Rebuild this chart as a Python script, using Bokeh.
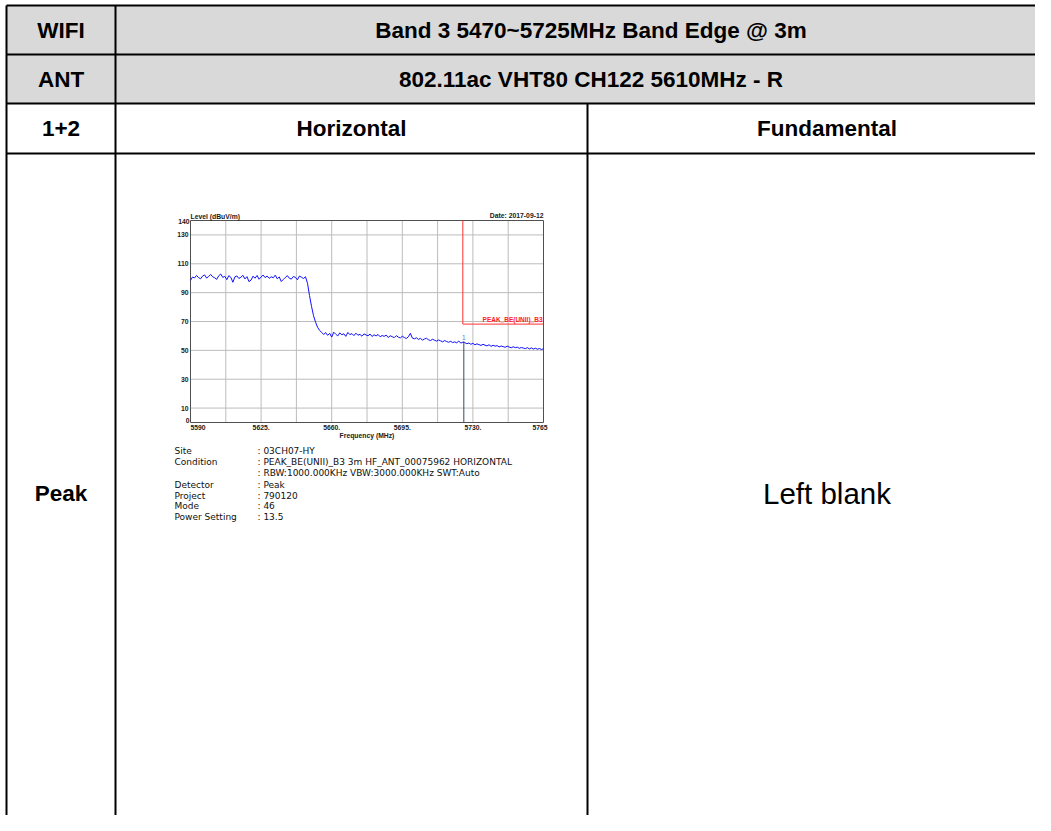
from bokeh.plotting import figure
from bokeh.models import Range1d, ColumnDataSource
from bokeh.core.properties import value
from bokeh.embed import file_html
from bokeh.resources import INLINE

# ---------------- table contents ----------------
row1_texts = ["WIFI", "Band 3 5470~5725MHz Band Edge @ 3m"]
row2_texts = ["ANT", "802.11ac VHT80 CH122 5610MHz - R"]
row3_texts = ["1+2", "Horizontal", "Fundamental"]
row4_texts = ["Peak", "Left blank"]

# ---------------- embedded spectrum plot data ----------------
freq_mhz = list(range(5590, 5766))
level_dbuv = [
    98.5, 100.8, 100.2, 101.9, 100.4, 99.6, 101.5, 102.3, 100.1, 101.2,
    102.6, 101.0, 100.3, 99.2, 101.7, 102.9, 100.5, 101.3, 99.0, 101.8,
    100.6, 97.2, 100.9, 101.6, 99.8, 100.7, 102.0, 99.5, 101.1, 97.6,
    98.7, 101.4, 100.0, 101.9, 99.3, 100.8, 102.2, 100.4, 101.5, 99.9,
    101.0, 100.3, 102.1, 99.6, 100.9, 97.7, 99.1, 100.5, 101.8, 100.0,
    99.4, 101.2, 100.6, 98.9, 101.5, 100.7, 99.8, 101.0,
    96.5, 88.0, 80.5, 74.0, 69.5, 66.0, 63.8, 62.5,
    61.0, 62.3, 60.4, 61.8, 59.2, 62.6, 61.2, 60.0, 62.1, 60.8,
    61.5, 59.7, 62.4, 60.9, 61.6, 60.2, 61.9, 60.5, 61.1, 59.8,
    61.4, 60.7, 60.1, 61.3, 59.6, 60.8, 60.0, 61.0, 59.4, 60.3,
    59.7, 60.6, 58.9, 60.1, 59.5, 58.8, 60.2, 59.2, 58.6, 59.8,
    58.9, 58.2, 59.4, 61.8, 58.5,
    58.0, 58.7, 57.6, 58.3, 57.1, 57.9, 58.4, 57.3, 56.8, 57.7,
    57.0, 56.4, 57.2, 56.6, 55.9, 56.8, 56.1, 55.6, 56.3, 55.4,
    55.9, 55.2, 56.5, 55.0, 55.7,
    55.3, 54.6, 55.1, 54.2, 54.9, 53.8, 54.5, 54.0, 53.4, 54.2,
    53.6, 53.1, 53.9, 52.8, 53.5, 52.9, 53.3, 52.4, 53.0, 52.6,
    52.1, 52.9, 52.3, 51.8, 52.5, 51.9, 52.2, 51.4, 52.0, 51.6,
    51.2, 51.9, 51.0, 51.7, 50.9, 51.5, 50.8, 51.3, 50.6, 51.1,
]
x_tick_values = [5590, 5625, 5660, 5695, 5730, 5765]
x_tick_labels = ["5590", "5625.", "5660.", "5695.", "5730.", "5765"]
x_grid_values = [5607.5, 5625, 5642.5, 5660, 5677.5, 5695, 5712.5, 5730, 5747.5]
y_tick_values = [130, 110, 90, 70, 50, 30, 10]
y_tick_labels = ["130", "110", "90", "70", "50", "30", "10"]
y_grid_values = [130, 110, 90, 70, 50, 30, 10]
y_min, y_max = 0, 140
f_min, f_max = 5590, 5765
limit_freq = [5725, 5765]
limit_level = 68.2
limit_name = "PEAK_BE(UNII)_B3"
marker_freq = 5725.5
marker_level = 56.3
y_title = "Level (dBuV/m)"
x_title = "Frequency (MHz)"
date_text = "Date: 2017-09-12"

info_labels = ["Site", "Condition", "", "Detector", "Project", "Mode", "Power Setting"]
info_values = [": 03CH07-HY",
               ": PEAK_BE(UNII)_B3 3m HF_ANT_00075962 HORIZONTAL",
               ": RBW:1000.000KHz VBW:3000.000KHz SWT:Auto",
               ": Peak", ": 790120", ": 46", ": 13.5"]

# ---------------- layout (page pixel space) ----------------
W, H = 1035, 815
X0, Y0 = 0, 0
col_x = [6, 115, 587, 1066]
row_y = [5, 54, 103, 153, 833]
box_l, box_r, box_t, box_b = 190, 543, 220, 422
info_label_x, info_value_x = 174, 257
info_y = [450, 461, 472, 484, 495, 505, 516]

p = figure(width=W, height=H, x_range=Range1d(X0, X0 + W), y_range=Range1d(Y0 + H, Y0),
           output_backend="svg", toolbar_location=None, min_border=0,
           x_axis_location=None, y_axis_location=None,
           outline_line_color=None, background_fill_color="white",
           border_fill_color="white")
p.grid.visible = False

kx = (f_max - f_min) / (box_r - box_l)
ky = (y_max - y_min) / (box_b - box_t)
p.extra_x_ranges = {"chart": Range1d(f_min - (box_l - X0) * kx, f_max + (X0 + W - box_r) * kx)}
p.extra_y_ranges = {"chart": Range1d(y_min - (Y0 + H - box_b) * ky, y_max + (box_t - Y0) * ky)}
CH = dict(x_range_name="chart", y_range_name="chart")

# ---- table ----
p.quad(left=col_x[0], right=col_x[3], top=row_y[0], bottom=row_y[2],
       fill_color="#d9d9d9", line_color=None)
hx0 = [col_x[0]] * 4
hx1 = [col_x[3]] * 4
hy = row_y[:4]
p.segment(x0=hx0, y0=hy, x1=hx1, y1=hy, line_color="black", line_width=2)
p.segment(x0=[col_x[0], col_x[1], col_x[2]], y0=[row_y[0], row_y[0], row_y[2]],
          x1=[col_x[0], col_x[1], col_x[2]], y1=[row_y[4]] * 3,
          line_color="black", line_width=2)

def cx(a, b):
    return (col_x[a] + col_x[b]) / 2

def cy(r):
    return (row_y[r] + row_y[r + 1]) / 2

hdr = ColumnDataSource(dict(
    x=[cx(0, 1), cx(1, 3), cx(0, 1), cx(1, 3), cx(0, 1), cx(1, 2), cx(2, 3), cx(0, 1)],
    y=[cy(0), cy(0), cy(1), cy(1), cy(2), cy(2), cy(2), cy(3)],
    t=row1_texts + row2_texts + row3_texts + [row4_texts[0]]))
p.text(x="x", y="y", text="t", source=hdr, text_align="center", text_baseline="middle",
       text_font=value("Liberation Sans"), text_font_style="bold",
       text_font_size=value("22.5px"), text_color="black")
p.text(x=[cx(2, 3)], y=[cy(3)], text=[row4_texts[1]], text_align="center",
       text_baseline="middle", text_font=value("Liberation Sans"),
       text_font_size=value("29.5px"), text_color="black")

# ---- embedded chart ----
p.segment(x0=x_grid_values, y0=[y_min] * len(x_grid_values),
          x1=x_grid_values, y1=[y_max] * len(x_grid_values),
          line_color="#bcbcbc", line_width=1, **CH)
p.segment(x0=[f_min] * len(y_grid_values), y0=y_grid_values,
          x1=[f_max] * len(y_grid_values), y1=y_grid_values,
          line_color="#bcbcbc", line_width=1, **CH)
p.quad(left=f_min, right=f_max, bottom=y_min, top=y_max, fill_color=None,
       line_color="#505050", line_width=1, **CH)

p.line(x=freq_mhz, y=level_dbuv, line_color="#1010ff", line_width=1, **CH)

p.line(x=[limit_freq[0], limit_freq[0], limit_freq[1]],
       y=[y_max, limit_level, limit_level], line_color="#ff3030", line_width=1, **CH)
p.text(x=[limit_freq[1]], y=[limit_level], text=[limit_name], text_align="right",
       text_baseline="bottom", y_offset=-1, x_offset=-1, text_color="#ff2020",
       text_font=value("Liberation Sans"), text_font_style="bold",
       text_font_size=value("6.5px"), **CH)

p.segment(x0=[marker_freq], y0=[marker_level], x1=[marker_freq], y1=[y_min],
          line_color="#3a4a5a", line_width=1, **CH)
p.text(x=[marker_freq], y=[marker_level], text=["1"], text_align="center",
       text_baseline="bottom", y_offset=-1, text_color="#4a8aa0",
       text_font=value("Liberation Sans"), text_font_size=value("6.5px"), **CH)

tick_font = dict(text_font=value("Liberation Sans"), text_font_style="bold",
                 text_font_size=value("6.8px"), text_color="#202020")
p.text(x=[f_min] * len(y_tick_values), y=y_tick_values, text=y_tick_labels,
       text_align="right", text_baseline="middle", x_offset=-2, **tick_font, **CH)
p.text(x=[f_min], y=[y_max], text=[str(y_max)], text_align="right",
       text_baseline="middle", x_offset=-1, y_offset=1, **tick_font, **CH)
p.text(x=[f_min], y=[y_min], text=[str(y_min)], text_align="right",
       text_baseline="middle", x_offset=-1, y_offset=-2, **tick_font, **CH)

xa = ["left"] + ["center"] * (len(x_tick_values) - 2) + ["right"]
xo = [0] + [0] * (len(x_tick_values) - 2) + [4]
p.text(x=x_tick_values, y=[y_min] * len(x_tick_values), text=x_tick_labels,
       text_align=xa, x_offset=xo, text_baseline="top", y_offset=2, **tick_font, **CH)
p.text(x=[(f_min + f_max) / 2], y=[y_min], text=[x_title], text_align="center",
       text_baseline="top", y_offset=9, **tick_font, **CH)
p.text(x=[f_min], y=[y_max], text=[y_title], text_align="left",
       text_baseline="bottom", y_offset=-1, **tick_font, **CH)
p.text(x=[f_max], y=[y_max], text=[date_text], text_align="right",
       text_baseline="bottom", y_offset=-2, **tick_font, **CH)

# ---- info text ----
info_font = dict(text_font=value("DejaVu Sans"), text_font_size=value("9px"),
                 text_color="#101010", text_baseline="middle", text_align="left")
p.text(x=[info_label_x] * len(info_labels), y=info_y, text=info_labels, **info_font)
p.text(x=[info_value_x] * len(info_values), y=info_y, text=info_values, **info_font)

open("out.html", "w").write(file_html(p, INLINE))
